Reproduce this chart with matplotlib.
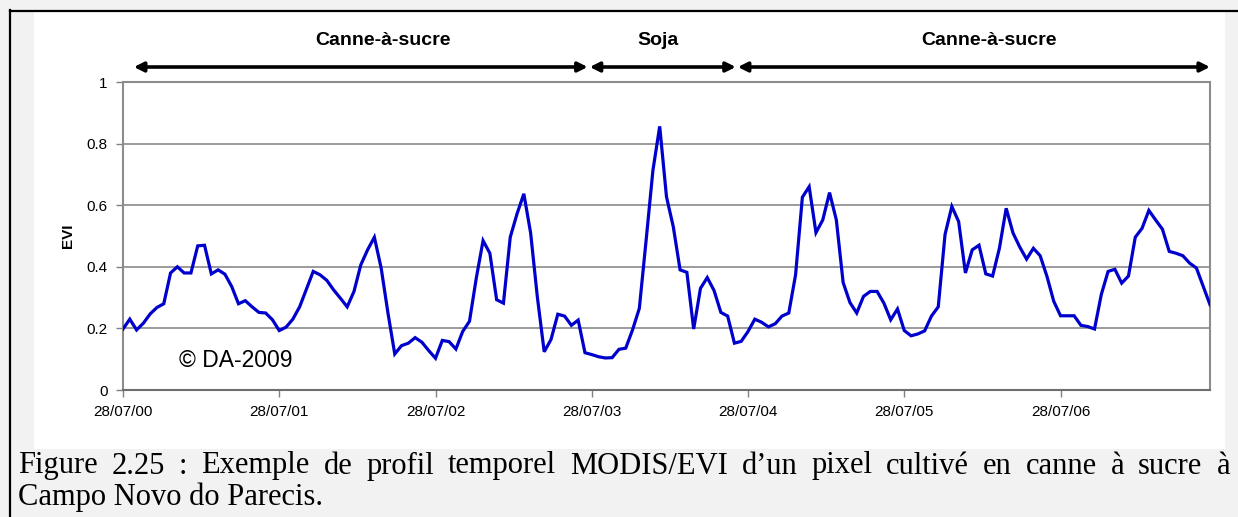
import matplotlib
matplotlib.use('Agg')
import matplotlib.pyplot as plt
from matplotlib.patches import Rectangle
from matplotlib.lines import Line2D

# MODIS/EVI profile, one value every 16 days from 28/07/2000
evi = [0.198, 0.23, 0.195, 0.217, 0.247, 0.268, 0.28, 0.38, 0.40, 0.38,
       0.38, 0.468, 0.47, 0.377, 0.39, 0.376, 0.336, 0.28, 0.29, 0.27,
       0.252, 0.25, 0.228, 0.193, 0.204, 0.23, 0.27, 0.328, 0.385, 0.374,
       0.356, 0.325, 0.298, 0.27, 0.32, 0.406, 0.455, 0.496, 0.396, 0.25,
       0.117, 0.144, 0.152, 0.17, 0.155, 0.128, 0.103, 0.161, 0.157, 0.133,
       0.19, 0.223, 0.363, 0.485, 0.444, 0.293, 0.282, 0.496, 0.572, 0.637,
       0.51, 0.30, 0.124, 0.164, 0.246, 0.24, 0.21, 0.227, 0.121, 0.115,
       0.108, 0.104, 0.105, 0.132, 0.136, 0.195, 0.265, 0.486, 0.713, 0.856,
       0.627, 0.53, 0.39, 0.382, 0.198, 0.33, 0.365, 0.323, 0.252, 0.24,
       0.152, 0.158, 0.19, 0.23, 0.22, 0.205, 0.215, 0.24, 0.25, 0.374,
       0.626, 0.66, 0.511, 0.552, 0.641, 0.552, 0.349, 0.284, 0.25, 0.304,
       0.32, 0.32, 0.282, 0.228, 0.263, 0.193, 0.176, 0.182, 0.192, 0.24,
       0.27, 0.505, 0.596, 0.547, 0.38, 0.455, 0.47, 0.377, 0.37, 0.46,
       0.59, 0.51, 0.464, 0.425, 0.46, 0.436, 0.369, 0.288, 0.241, 0.241,
       0.241, 0.21, 0.206, 0.198, 0.31, 0.385, 0.392, 0.347, 0.37, 0.496,
       0.525, 0.583, 0.552, 0.522, 0.45, 0.444, 0.436, 0.412, 0.396, 0.336,
       0.277]

date_labels = ['28/07/00', '28/07/01', '28/07/02', '28/07/03',
               '28/07/04', '28/07/05', '28/07/06']
per_year = 23

# crop periods (start, end in composite index)
seasons = ['Canne-à-sucre', 'Soja', 'Canne-à-sucre']
season_bounds = [(1.6, 68.4), (68.7, 90.2), (90.5, 160.0)]

caption = ['Figure 2.25 : Exemple de profil temporel MODIS/EVI d\u2019un pixel '
           'cultivé en canne à sucre à',
           'Campo Novo do Parecis.']

W, H = 1238, 517
fig = plt.figure(figsize=(W / 100, H / 100), dpi=100)
fig.patch.set_facecolor('#f2f2f2')

# white chart panel and the frame lines
fig.add_artist(Rectangle((34 / W, 1 - 449 / H), (1225 - 34) / W, (449 - 12) / H,
                         transform=fig.transFigure, facecolor='white',
                         edgecolor='none', zorder=0))
fig.add_artist(Line2D([9.5 / W, 9.5 / W], [0, 1 - 10 / H], transform=fig.transFigure,
                      color='black', lw=1.6))
fig.add_artist(Line2D([9.5 / W, 1], [1 - 10.5 / H, 1 - 10.5 / H], transform=fig.transFigure,
                      color='black', lw=1.6))

left, right, top, bottom = 123, 1210, 82, 390
ax = fig.add_axes([left / W, 1 - bottom / H, (right - left) / W, (bottom - top) / H])
ax.set_facecolor('white')

x = list(range(len(evi)))
ax.plot(x, evi, color='#0000cc', lw=2.3, solid_joinstyle='miter', zorder=3)

ax.set_xlim(0, len(evi) - 1)
ax.set_ylim(0, 1)
ax.set_yticks([0, 0.2, 0.4, 0.6, 0.8, 1])
ax.set_yticklabels(['0', '0.2', '0.4', '0.6', '0.8', '1'])
ax.set_xticks([i * per_year for i in range(len(date_labels))])
ax.set_xticklabels(date_labels)
ax.yaxis.grid(True, color='#808080', lw=1.1)
ax.set_axisbelow(True)

for side in ['left', 'top', 'right']:
    ax.spines[side].set_color('#8c8c8c')
    ax.spines[side].set_linewidth(1.5)
ax.spines['bottom'].set_color('#6e6e6e')
ax.spines['bottom'].set_linewidth(1.5)

ax.tick_params(axis='both', length=5, width=1, color='#808080',
               labelsize=11, labelcolor='black')
ax.tick_params(axis='x', pad=6)
ax.tick_params(axis='y', pad=6)
for lab in ax.get_xticklabels() + ax.get_yticklabels():
    lab.set_family('Liberation Sans')

ax.set_ylabel('EVI', fontsize=11, fontweight='bold', family='Liberation Sans',
              labelpad=8)

ax.text(8.3, 0.095, '\u00a9 DA-2009', fontsize=16.5, family='Liberation Sans',
        va='center', ha='left')

# crop period arrows and names above the plot
for name, (a, b) in zip(seasons, season_bounds):
    ax.annotate('', xy=(b, 1.0487), xytext=(a, 1.0487),
                xycoords=('data', 'axes fraction'),
                textcoords=('data', 'axes fraction'),
                arrowprops=dict(arrowstyle='<|-|>', color='black', lw=2.6,
                                mutation_scale=14, shrinkA=0, shrinkB=0),
                annotation_clip=False)
label_x = [38.3, 78.8, 127.4]
for name, lx in zip(seasons, label_x):
    ax.text(lx, 1.136, name, transform=ax.get_xaxis_transform(),
            ha='center', va='center', fontsize=14, fontweight='bold',
            family='Liberation Sans')

# caption: first line justified between the margins, second line left aligned
renderer = fig.canvas.get_renderer()
cap_left, cap_right = 18, 1230
cap_size = 22
words = caption[0].split(' ')
items = []
for w in words:
    t = fig.text(0, 1 - 466 / H, w, fontsize=cap_size, family='Liberation Serif',
                 va='center', ha='left')
    items.append((t, t.get_window_extent(renderer).width))
gap = (cap_right - cap_left - sum(wd for _, wd in items)) / (len(items) - 1)
pos = cap_left
for t, wd in items:
    t.set_x(pos / W)
    pos += wd + gap
fig.text(cap_left / W, 1 - 497 / H, caption[1], fontsize=cap_size,
         family='Liberation Serif', va='center', ha='left')

fig.savefig('out.png', dpi=100, facecolor=fig.get_facecolor())
